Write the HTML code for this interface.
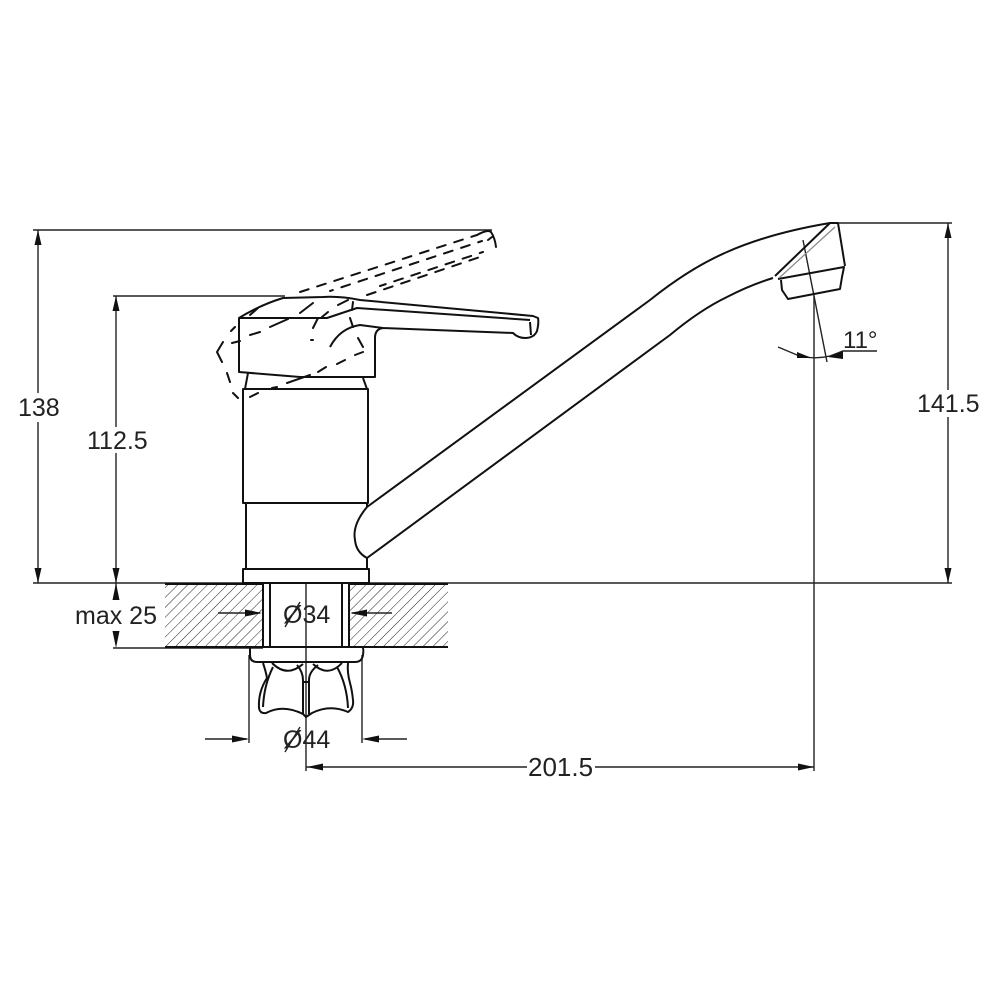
<!DOCTYPE html>
<html><head><meta charset="utf-8"><style>html,body{margin:0;padding:0;background:#fff}svg{display:block}text{font-family:"Liberation Sans",sans-serif;font-size:25px;fill:#222}</style></head>
<body><svg width="1000" height="1000" viewBox="0 0 1000 1000" xmlns="http://www.w3.org/2000/svg">
<defs>
<pattern id="h" width="7" height="7" patternUnits="userSpaceOnUse" patternTransform="rotate(45)"><line x1="0" y1="0" x2="0" y2="7" stroke="#222" stroke-width="1"/></pattern>
</defs>
<rect width="1000" height="1000" fill="#fff"/>
<rect x="165" y="584" width="98" height="63" fill="url(#h)"/>
<rect x="349" y="584" width="99" height="63" fill="url(#h)"/>
<g fill="none" stroke="#222" stroke-width="1.4">
<path d="M33 230H492M113 296H285M33 583H952M113 648H263M838 223H952"/>
<path d="M38 230V393M38 422V583M116 296V427M116 453V583M116 583V600M948 223V390M948 417V583M306 584V771M814 296V771M249 655V743M362 655V743"/>
<path d="M306 767H527M595 767H814M205 739H247M365 739H407M218 613H260M352 613H392"/>
<path d="M778 347Q790 352 797 355Q813 360 830 356L843 351H877M803 240L827 362"/>
<path d="M285 627L300 602M285 752L300 727"/>
</g>
<g fill="#111">
<path d="M38 230l-3.500 15h7zM38 583l-3.500-15h7zM116 296l-3.500 15h7zM116 583l-3.500-15h7zM116 583l-3.500 17h7zM116 648l-3.500-17h7zM948 223l-3.500 15h7zM948 583l-3.500-15h7z"/>
<path d="M249 739l-17-3.500v7zM362 739l17-3.500v7zM307 767l16-3.500v7zM814 767l-16-3.500v7zM262 613l-17-3.500v7zM350 613l17-3.500v7zM812 358l-15-6v6zM828 357l15-6v8z"/>
</g>
<g fill="none" stroke="#111" stroke-width="2" stroke-linejoin="round">
<path d="M243 389H368V503H243ZM246 503V569M367 503V507M367 558V569M243 569H369V583H243ZM248 373L245 389M363 378L367 389"/>
<path d="M239 318V372L300 377H375V338Q375 329 383 328L513 333Q518 338 525 338Q534 338 537 331Q539 323 538 318L533 316L360 300Q340 296 323 297L283 298Q260 305 239 318ZM239 318H327L357 308L530 320M530 322L531 335M330 347Q340 328 360 325L383 328"/>
<path d="M367 507L650 300Q690 268 727 252Q770 233 830 223M367 507Q352 525 355 540Q356 552 367 558L670 335Q700 310 727 297Q750 285 773 278M775 276L830 223H838L845 266M778 279L844 267L842 277L840 289L788 299L782 290L781 280"/>
<path d="M263 584V647M270 584V647M342 584V647M349 584V647M165 584H263M349 584H448M165 647H448"/>
<path d="M250 647H362Q364 648 363 655Q362 662 355 662H257Q250 662 250 655Z"/>
<path d="M263 663Q266 672 267 678Q258 692 259 708Q260 714 266 713Q283 704 303 714L306 717L312 713Q330 704 348 712Q354 708 353 700Q352 690 350 683Q347 672 348 663"/>
<path d="M272 663Q287 678 303 664M313 664Q328 678 342 663M273 667Q264 685 263 707M337 667Q347 685 348 708M297 665Q303 672 303 680V714M318 665Q309 672 309 680V714M303 682H309"/>
</g>
<path d="M779 278L835 227" fill="none" stroke="#888" stroke-width="1.2"/>
<g fill="none" stroke="#111" stroke-width="2" stroke-linecap="round">
<path d="M300 292L477 235" stroke-dasharray="9 9"/>
<path d="M330 291L482 241" stroke-dasharray="9 9" stroke-dashoffset="6"/>
<path d="M380 286L483 252" stroke-dasharray="9 9" stroke-dashoffset="3"/>
<path d="M367 295L483 256" stroke-dasharray="9 9"/>
<path d="M477 235Q488 229 491 232Q495 238 496 247M488 240L492 237"/>
<path d="M235 327L231 331M223 342L217 352L222 362M227 373L230 382M233 393L238 398"/>
<path d="M232 343L240 341M250 335L260 332M270 327L288 319M300 313L313 303M313 328L318 318M322 317L328 312M338 305L348 300M352 310L353 302M350 318L353 327M358 338L363 347M355 355L363 352M337 364L345 360M318 372L326 367M287 383L310 375M272 388L277 387M250 397L258 393M250 315L258 308M311 340L313 340"/>
</g>
<text x="18" y="416">138</text>
<text x="87" y="449">112.5</text>
<text x="75" y="624">max 25</text>
<text x="917" y="412">141.5</text>
<text x="528" y="776" style="font-size:26px">201.5</text>
<text x="843" y="348" style="font-size:24px">11°</text>
<text x="283" y="623">Ø34</text>
<text x="283" y="748">Ø44</text>
</svg></body></html>
